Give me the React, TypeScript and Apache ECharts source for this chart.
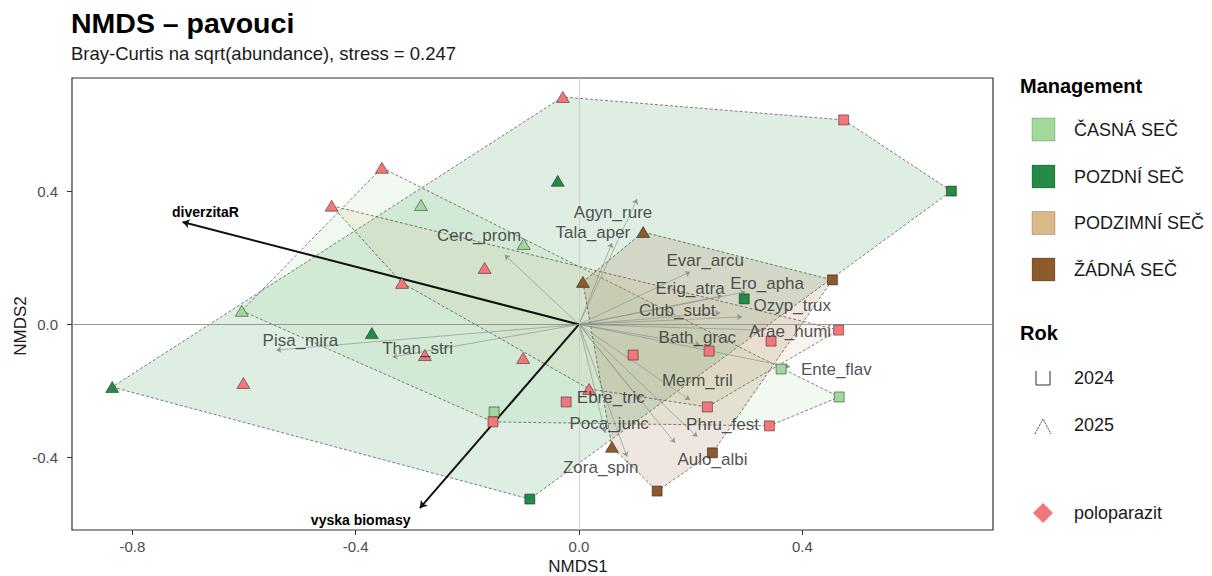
import React, { useEffect, useRef } from "react";
import * as echarts from "echarts";

const FONT = '"Liberation Sans", Arial, Helvetica, sans-serif';

// Management groups
const mgmtNames = ["ČASNÁ SEČ", "POZDNÍ SEČ", "PODZIMNÍ SEČ", "ŽÁDNÁ SEČ"];
const mgmtColors = ["#a1d99b", "#238b45", "#d9b98a", "#8c5a2b"];
const poloColor = "#f3777a";

// Sites (NMDS scores)
const siteX = [
  -0.029, -0.353, -0.443, -0.283, -0.038, -0.099, -0.169, -0.317, 0.115, 0.007,
  -0.604, -0.371, -0.836, -0.601, -0.276, -0.1, 0.018, 0.059,
  0.474, 0.667, 0.454, 0.296, 0.465, 0.344, 0.362, 0.466, 0.233, 0.23, 0.341,
  0.097, -0.023, -0.152, -0.154, -0.088, 0.14, 0.239,
];
const siteY = [
  0.684, 0.471, 0.357, 0.359, 0.432, 0.242, 0.17, 0.125, 0.278, 0.128,
  0.041, -0.026, -0.188, -0.176, -0.092, -0.101, -0.194, -0.368,
  0.615, 0.401, 0.134, 0.077, -0.017, -0.05, -0.134, -0.218, -0.08, -0.248, -0.305,
  -0.092, -0.233, -0.263, -0.293, -0.525, -0.501, -0.386,
];
// 0 ČASNÁ, 1 POZDNÍ, 2 PODZIMNÍ, 3 ŽÁDNÁ
const siteMgmt = [
  1, 0, 2, 0, 1, 0, 2, 2, 3, 3,
  0, 1, 1, 1, 0, 0, 2, 3,
  1, 1, 3, 1, 2, 2, 0, 0, 2, 2, 0,
  2, 0, 0, 0, 1, 3, 3,
];
const siteYear = [
  2025, 2025, 2025, 2025, 2025, 2025, 2025, 2025, 2025, 2025,
  2025, 2025, 2025, 2025, 2025, 2025, 2025, 2025,
  2024, 2024, 2024, 2024, 2024, 2024, 2024, 2024, 2024, 2024, 2024,
  2024, 2024, 2024, 2024, 2024, 2024, 2024,
];
const sitePolo = [
  1, 1, 1, 0, 0, 0, 1, 1, 0, 0,
  0, 0, 0, 1, 1, 1, 1, 0,
  1, 0, 0, 0, 1, 1, 0, 0, 1, 1, 1,
  1, 1, 0, 1, 0, 0, 0,
];

// Species scores (arrow tips) and label positions
const speciesNames = [
  "Agyn_rure", "Tala_aper", "Cerc_prom", "Evar_arcu", "Ero_apha", "Erig_atra",
  "Ozyp_trux", "Club_subt", "Arae_humi", "Bath_grac", "Pisa_mira", "Than_stri",
  "Ente_flav", "Merm_tril", "Ebre_tric", "Poca_junc", "Phru_fest", "Aulo_albi", "Zora_spin",
];
const speciesX = [0.104, 0.059, -0.133, 0.199, 0.298, 0.256, 0.292, 0.253, 0.325, 0.217, -0.542, -0.334, 0.378, 0.199, 0.109, 0.047, 0.212, 0.172, 0.086];
const speciesY = [0.377, 0.245, 0.209, 0.158, 0.098, 0.086, 0.023, 0.035, -0.017, -0.062, -0.077, -0.098, -0.128, -0.227, -0.227, -0.326, -0.338, -0.356, -0.398];
const speciesLabelX = [0.061, 0.025, -0.179, 0.226, 0.337, 0.199, 0.382, 0.176, 0.378, 0.212, -0.499, -0.289, 0.461, 0.212, 0.057, 0.054, 0.257, 0.239, 0.039];
const speciesLabelY = [0.338, 0.275, 0.266, 0.191, 0.122, 0.107, 0.056, 0.041, -0.02, -0.038, -0.047, -0.071, -0.134, -0.17, -0.221, -0.299, -0.302, -0.405, -0.429];

// Environmental vectors
const vectorNames = ["diverzitaR", "vyska biomasy"];
const vectorX = [-0.71, -0.285];
const vectorY = [0.308, -0.552];
const vectorLabelX = [-0.669, -0.391];
const vectorLabelY = [0.338, -0.588];

const xTicks = [-0.8, -0.4, 0, 0.4];
const yTicks = [-0.4, 0, 0.4];

function hexToRgba(hex: string, a: number) {
  const n = parseInt(hex.slice(1), 16);
  return `rgba(${(n >> 16) & 255},${(n >> 8) & 255},${n & 255},${a})`;
}

function convexHull(pts: number[][]) {
  const p = pts.slice().sort((a, b) => (a[0] - b[0]) || (a[1] - b[1]));
  const cross = (o: number[], a: number[], b: number[]) =>
    (a[0] - o[0]) * (b[1] - o[1]) - (a[1] - o[1]) * (b[0] - o[0]);
  const lower: number[][] = [];
  for (const q of p) {
    while (lower.length >= 2 && cross(lower[lower.length - 2], lower[lower.length - 1], q) <= 0) lower.pop();
    lower.push(q);
  }
  const upper: number[][] = [];
  for (let i = p.length - 1; i >= 0; i--) {
    const q = p[i];
    while (upper.length >= 2 && cross(upper[upper.length - 2], upper[upper.length - 1], q) <= 0) upper.pop();
    upper.push(q);
  }
  upper.pop();
  lower.pop();
  return lower.concat(upper);
}

export default function App() {
  const ref = useRef<HTMLDivElement>(null);
  useEffect(() => {
    document.body.style.margin = "0";
    const chart = echarts.init(ref.current!, undefined, { renderer: "svg" });

    const hullSeries = mgmtNames.map((name, m) => {
      const pts: number[][] = [];
      siteX.forEach((x, i) => {
        if (siteMgmt[i] === m) pts.push([x, siteY[i]]);
      });
      const hull = convexHull(pts);
      return {
        type: "custom",
        name: name + " hull",
        coordinateSystem: "cartesian2d",
        silent: true,
        z: 1,
        data: hull,
        renderItem: (params: any, api: any) => {
          if (params.dataIndex !== 0) return null;
          const pp = hull.map((p) => api.coord(p));
          return {
            type: "polygon",
            shape: { points: pp },
            style: {
              fill: hexToRgba(mgmtColors[m], 0.15),
              stroke: "rgba(40,40,40,0.85)",
              lineWidth: 0.7,
              lineDash: [3, 2],
            },
          };
        },
      };
    });

    const siteData = (year: number) =>
      siteX
        .map((x, i) => ({ i, x }))
        .filter((d) => siteYear[d.i] === year)
        .map((d) => ({
          value: [d.x, siteY[d.i]],
          itemStyle: { color: sitePolo[d.i] ? poloColor : mgmtColors[siteMgmt[d.i]] },
        }));

    const textSeries = (
      name: string,
      xs: number[],
      ys: number[],
      labels: string[],
      font: string,
      color: string
    ) => ({
      type: "custom",
      name,
      coordinateSystem: "cartesian2d",
      silent: true,
      z: 6,
      data: xs.map((x, i) => [x, ys[i]]),
      renderItem: (params: any, api: any) => {
        const c = api.coord([api.value(0), api.value(1)]);
        return {
          type: "text",
          x: c[0],
          y: c[1],
          style: {
            text: labels[params.dataIndex],
            font,
            fill: color,
            align: "center",
            verticalAlign: "middle",
          },
        };
      },
    });

    const legendY = [129.5, 176.5, 223, 269.5];
    const graphics: any[] = [
      { type: "text", left: 1020, top: 76, style: { text: "Management", font: `bold 20px ${FONT}`, fill: "#000" } },
      { type: "text", left: 1020, top: 323, style: { text: "Rok", font: `bold 20px ${FONT}`, fill: "#000" } },
      {
        type: "text",
        x: 578,
        y: 566,
        style: { text: "NMDS1", font: `17px ${FONT}`, fill: "#1a1a1a", align: "center", verticalAlign: "middle" },
      },
      {
        type: "text",
        x: 20,
        y: 326,
        rotation: Math.PI / 2,
        style: { text: "NMDS2", font: `17px ${FONT}`, fill: "#1a1a1a", align: "center", verticalAlign: "middle" },
      },
    ];
    mgmtNames.forEach((n, i) => {
      graphics.push({
        type: "rect",
        shape: { x: 1032, y: legendY[i] - 11.5, width: 23, height: 23 },
        style: { fill: mgmtColors[i], stroke: "rgba(0,0,0,0.25)", lineWidth: 0.8 },
      });
      graphics.push({
        type: "text",
        x: 1074,
        y: legendY[i],
        style: { text: n, font: `18px ${FONT}`, fill: "#1a1a1a", verticalAlign: "middle" },
      });
    });
    graphics.push(
      {
        type: "polyline",
        shape: { points: [[1036, 371], [1036, 385], [1050, 385], [1050, 371]] },
        style: { stroke: "#333", lineWidth: 1, fill: "none" },
      },
      {
        type: "polyline",
        shape: { points: [[1035, 434], [1043, 419], [1051, 434]] },
        style: { stroke: "#333", lineWidth: 0.9, fill: "none", lineDash: [2, 1] },
      },
      { type: "text", x: 1074, y: 378, style: { text: "2024", font: `18px ${FONT}`, fill: "#1a1a1a", verticalAlign: "middle" } },
      { type: "text", x: 1074, y: 425, style: { text: "2025", font: `18px ${FONT}`, fill: "#1a1a1a", verticalAlign: "middle" } },
      {
        type: "polygon",
        shape: { points: [[1043, 503], [1053, 513], [1043, 523], [1033, 513]] },
        style: { fill: poloColor },
      },
      { type: "text", x: 1074, y: 513, style: { text: "poloparazit", font: `18px ${FONT}`, fill: "#1a1a1a", verticalAlign: "middle" } }
    );

    const option: any = {
      animation: false,
      backgroundColor: "#fff",
      title: {
        text: "NMDS – pavouci",
        subtext: "Bray-Curtis na sqrt(abundance), stress = 0.247",
        left: 71,
        top: 8,
        padding: 0,
        itemGap: 7,
        textStyle: { fontSize: 28.5, fontWeight: "bold", color: "#000", fontFamily: FONT },
        subtextStyle: { fontSize: 18.5, color: "#1a1a1a", fontFamily: FONT },
      },
      grid: {
        left: 72,
        right: 219,
        top: 78,
        bottom: 46,
        show: true,
        borderColor: "#333",
        borderWidth: 1.2,
        backgroundColor: "#fff",
      },
      xAxis: {
        type: "value",
        min: -0.908,
        max: 0.7415,
        axisLine: { show: false, onZero: false },
        splitLine: { show: false },
        axisTick: { show: true, length: 5, customValues: xTicks, lineStyle: { color: "#333" } },
        axisLabel: {
          customValues: xTicks,
          formatter: (v: number) => v.toFixed(1),
          fontSize: 15,
          color: "#4d4d4d",
          margin: 9,
          fontFamily: FONT,
        },
      },
      yAxis: {
        type: "value",
        min: -0.618,
        max: 0.741,
        axisLine: { show: false, onZero: false },
        splitLine: { show: false },
        axisTick: { show: true, length: 5, customValues: yTicks, lineStyle: { color: "#333" } },
        axisLabel: {
          customValues: yTicks,
          formatter: (v: number) => v.toFixed(1),
          fontSize: 15,
          color: "#4d4d4d",
          margin: 14,
          fontFamily: FONT,
        },
      },
      graphic: graphics,
      series: [
        ...hullSeries,
        {
          type: "scatter",
          name: "zero",
          data: [],
          silent: true,
          z: 2,
          markLine: {
            silent: true,
            symbol: ["none", "none"],
            label: { show: false },
            data: [
              { xAxis: 0, lineStyle: { color: "#c8c8c8", width: 0.8, type: "solid" } },
              { yAxis: 0, lineStyle: { color: "#8f8f8f", width: 0.9, type: "solid" } },
            ],
          },
        },
        {
          type: "lines",
          name: "species",
          coordinateSystem: "cartesian2d",
          silent: true,
          z: 3,
          symbol: ["none", "arrow"],
          symbolSize: 5,
          lineStyle: { color: "#8c8c8c", width: 0.7, opacity: 0.9 },
          data: speciesNames.map((n, i) => ({ name: n, coords: [[0, 0], [speciesX[i], speciesY[i]]] })),
        },
        {
          type: "lines",
          name: "vectors",
          coordinateSystem: "cartesian2d",
          silent: true,
          z: 4,
          symbol: ["none", "arrow"],
          symbolSize: 7,
          lineStyle: { color: "#111", width: 2, opacity: 1 },
          data: vectorNames.map((n, i) => ({ name: n, coords: [[0, 0], [vectorX[i], vectorY[i]]] })),
        },
        {
          type: "scatter",
          name: "2025",
          symbol: "triangle",
          symbolSize: [13, 11],
          z: 5,
          itemStyle: { borderColor: "rgba(20,20,20,0.6)", borderWidth: 0.8, opacity: 1 },
          data: siteData(2025),
        },
        {
          type: "scatter",
          name: "2024",
          symbol: "rect",
          symbolSize: 10,
          z: 5,
          itemStyle: { borderColor: "rgba(20,20,20,0.6)", borderWidth: 0.8, opacity: 1 },
          data: siteData(2024),
        },
        textSeries("species labels", speciesLabelX, speciesLabelY, speciesNames, `17px ${FONT}`, "rgba(60,60,60,0.9)"),
        textSeries("vector labels", vectorLabelX, vectorLabelY, vectorNames, `bold 14px ${FONT}`, "#000"),
      ],
    };
    chart.setOption(option);
    return () => chart.dispose();
  }, []);
  return <div ref={ref} style={{ width: 1212, height: 576 }} />;
}
